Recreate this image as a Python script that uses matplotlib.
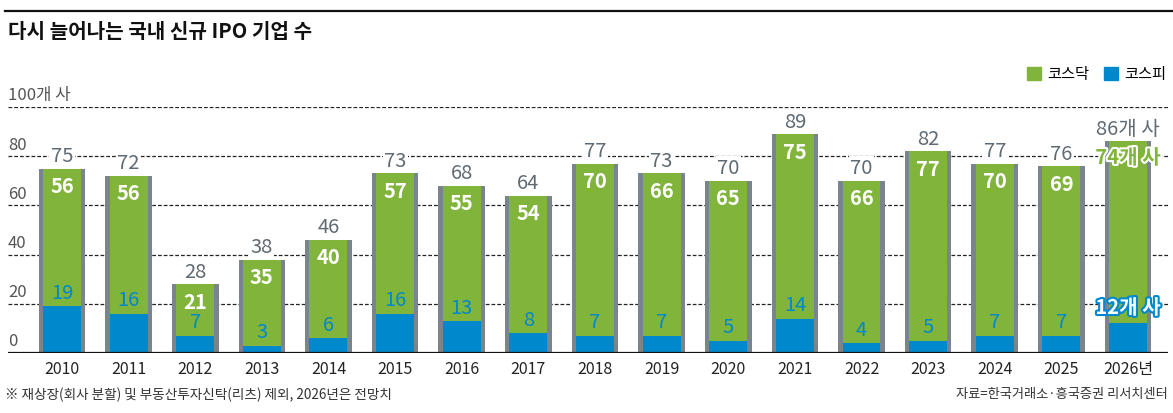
import matplotlib
matplotlib.use("Agg")
import matplotlib.pyplot as plt
import matplotlib.patheffects as pe
from matplotlib.lines import Line2D
from matplotlib.patches import Patch
import numpy as np

plt.rcParams["font.family"] = ["Noto Sans CJK KR", "DejaVu Sans"]

# ── Data ──────────────────────────────────────────────────────────────────────
years = ["2010", "2011", "2012", "2013", "2014", "2015", "2016", "2017", "2018",
         "2019", "2020", "2021", "2022", "2023", "2024", "2025", "2026년"]
total = [75, 72, 28, 38, 46, 73, 68, 64, 77, 73, 70, 89, 70, 82, 77, 76, 86]
kosdaq = [56, 56, 21, 35, 40, 57, 55, 54, 70, 66, 65, 75, 66, 77, 70, 69, 74]
kospi = [19, 16, 7, 3, 6, 16, 13, 8, 7, 7, 5, 14, 4, 5, 7, 7, 12]
yticks = [0, 20, 40, 60, 80]

GREEN = "#80b43a"
BLUE = "#0088cc"
GRAY = "#7a848c"
LABEL_GRAY = "#5f6a72"

W, H = 1173, 414
fig = plt.figure(figsize=(W / 100, H / 100), dpi=100)
ax = fig.add_axes([8 / W, 1 - 354 / H, (1168 - 8) / W, (354 - 108) / H])

x = np.arange(len(years))
tot = np.array(total)
ksp = np.array(kospi)

# grid lines (dashed) behind bars
for v in [20, 40, 60, 80, 100]:
    ax.axhline(v, color="#222222", lw=0.9, ls=(0, (3, 1.6)), zorder=0)
ax.axhline(0, color="#111111", lw=1.6, zorder=5)

ax.bar(x, tot, width=0.70, color=GRAY, zorder=2)
ax.bar(x, ksp, width=0.57, color=BLUE, zorder=3)
ax.bar(x, tot - ksp, bottom=ksp, width=0.57, color=GREEN, zorder=3)

pt = 0.72  # px -> points at 100 dpi
FS = 14.5
last = len(years) - 1
for i in range(len(years)):
    if i == last:
        ax.annotate(f"{total[i]}개 사", (x[i], total[i]), xytext=(0, 13 * pt),
                    textcoords="offset points", ha="center", va="center",
                    fontsize=FS, color=LABEL_GRAY, zorder=6,
                    bbox=dict(facecolor="white", edgecolor="none", pad=1))
        ax.annotate(f"{kosdaq[i]}개 사", (x[i], total[i]), xytext=(0, -16 * pt),
                    textcoords="offset points", ha="center", va="center",
                    fontsize=FS, fontweight="bold", color=GREEN, zorder=6,
                    path_effects=[pe.withStroke(linewidth=3, foreground="white")])
        ax.annotate(f"{kospi[i]}개 사", (x[i], kospi[i]), xytext=(0, 16 * pt),
                    textcoords="offset points", ha="center", va="center",
                    fontsize=FS, fontweight="bold", color="white", zorder=6,
                    path_effects=[pe.withStroke(linewidth=3, foreground=BLUE)])
        continue
    ax.annotate(str(total[i]), (x[i], total[i]), xytext=(0, 13 * pt),
                textcoords="offset points", ha="center", va="center",
                fontsize=FS, color=LABEL_GRAY, zorder=6,
                bbox=dict(facecolor="white", edgecolor="none", pad=1))
    ax.annotate(str(kosdaq[i]), (x[i], total[i]), xytext=(0, -17 * pt),
                textcoords="offset points", ha="center", va="center",
                fontsize=FS, fontweight="bold", color="white", zorder=6)
    ax.annotate(str(kospi[i]), (x[i], kospi[i]), xytext=(0, 14 * pt),
                textcoords="offset points", ha="center", va="center",
                fontsize=FS, color=BLUE, zorder=6)

ax.set_xlim(-0.81, 16.6)
ax.set_ylim(0, 100)
ax.set_xticks(x)
ax.set_xticklabels(years, fontsize=11.5, color="#222222")
ax.tick_params(axis="x", length=0, pad=5)
ax.set_yticks([])
for s in ax.spines.values():
    s.set_visible(False)

# y labels sit on top of the grid lines
for v in yticks:
    ax.text(0.0, v + 1.5, str(v), transform=ax.get_yaxis_transform(),
            ha="left", va="bottom", fontsize=12, color="#555555", zorder=6)
ax.text(0.0, 101.5, "100개 사", transform=ax.get_yaxis_transform(),
        ha="left", va="bottom", fontsize=12, color="#555555")

# title and top rule
fig.add_artist(Line2D([5 / W, 1.0], [1 - 12 / H, 1 - 12 / H], color="#111111", lw=1.6))
fig.text(8 / W, 1 - 31 / H, "다시 늘어나는 국내 신규 IPO 기업 수", ha="left", va="center",
         fontsize=14.5, fontweight="bold", color="#111111")

handles = [Patch(color=GREEN, label="코스닥"), Patch(color=BLUE, label="코스피")]
fig.legend(handles=handles, loc="center right", bbox_to_anchor=(1172 / W, 1 - 75 / H),
           ncol=2, frameon=False, fontsize=11, handlelength=0.9, handleheight=0.9,
           handletextpad=0.4, columnspacing=1.0, borderaxespad=0)

fig.text(5 / W, 1 - 395 / H, "※ 재상장(회사 분할) 및 부동산투자신탁(리츠) 제외, 2026년은 전망치",
         ha="left", va="center", fontsize=9.8, color="#333333")
fig.text(1168 / W, 1 - 395 / H, "자료=한국거래소·흥국증권 리서치센터",
         ha="right", va="center", fontsize=9.5, color="#333333")

fig.savefig("out.png", dpi=100)
